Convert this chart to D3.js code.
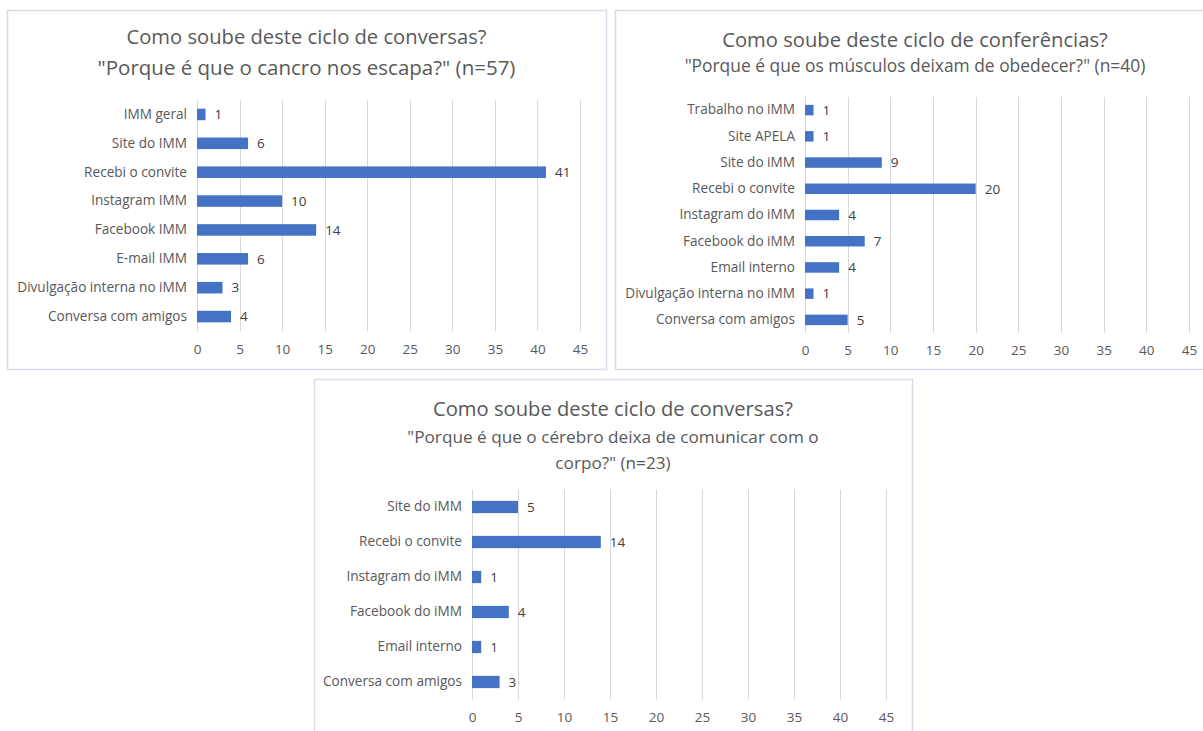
<!DOCTYPE html>
<html lang="pt">
<head>
  <meta charset="UTF-8">
  <title>Como soube deste ciclo</title>
  <style>
    * {box-sizing: border-box;}
    html, body {
      margin: 0;
      padding: 0;
      width: 1203px;
      height: 731px;
      background: #fff;
      overflow: hidden;
    }
    svg text {font-family: "Open Sans", "Noto Sans", sans-serif;}
  </style>
</head>
<body>
  <svg id="chart" width="1203" height="731"></svg>

  <script src="https://cdnjs.cloudflare.com/ajax/libs/d3/7.8.5/d3.min.js"></script>
  <script>
    // data, top to bottom as shown
    const cats1 = ['IMM geral', 'Site do IMM', 'Recebi o convite', 'Instagram IMM', 'Facebook IMM', 'E-mail IMM', 'Divulgação interna no iMM', 'Conversa com amigos']
    const vals1 = [1, 6, 41, 10, 14, 6, 3, 4]

    const cats2 = ['Trabalho no iMM', 'Site APELA', 'Site do iMM', 'Recebi o convite', 'Instagram do iMM', 'Facebook do iMM', 'Email interno', 'Divulgação interna no iMM', 'Conversa com amigos']
    const vals2 = [1, 1, 9, 20, 4, 7, 4, 1, 5]

    const cats3 = ['Site do iMM', 'Recebi o convite', 'Instagram do iMM', 'Facebook do iMM', 'Email interno', 'Conversa com amigos']
    const vals3 = [5, 14, 1, 4, 1, 3]

    const xTicks = [0, 5, 10, 15, 20, 25, 30, 35, 40, 45]

    const titles1 = ['Como soube deste ciclo de conversas?', '"Porque é que o cancro nos escapa?" (n=57)']
    const titles2 = ['Como soube deste ciclo de conferências?', '"Porque é que os músculos deixam de obedecer?" (n=40)']
    const titles3 = ['Como soube deste ciclo de conversas?', '"Porque é que o cérebro deixa de comunicar com o', 'corpo?" (n=23)']

    const panels = [
      {cats: cats1, vals: vals1, titles: titles1,
       box: [7, 10, 599, 359], titleY: [37, 68], titleSize: [20.2, 20.5],
       xr: [197, 580], yr: [100, 331], tickY: 351, pad: 0.6},
      {cats: cats2, vals: vals2, titles: titles2,
       box: [615, 10, 600, 359], titleY: [40, 66], titleSize: [20.2, 17.4],
       xr: [805, 1189], yr: [97, 333], tickY: 352, pad: 0.6},
      {cats: cats3, vals: vals3, titles: titles3,
       box: [314, 379, 598, 360], titleY: [409, 437, 463], titleSize: [20.2, 17.2, 17.2],
       xr: [472, 886], yr: [489.5, 699.5], tickY: 719, pad: 0.65}
    ]

    const svg = d3.select('#chart')

    panels.forEach(function (p) {
      const g = svg.append('g')

      g.append('rect')
        .attr('x', p.box[0] + 0.5)
        .attr('y', p.box[1] + 0.5)
        .attr('width', p.box[2])
        .attr('height', p.box[3])
        .attr('fill', '#fff')
        .attr('stroke', '#d6dde9')
        .attr('stroke-width', 1.5)

      const cx = p.box[0] + p.box[2] / 2
      g.selectAll('text.title')
        .data(p.titles)
        .enter().append('text')
        .attr('class', 'title')
        .attr('x', cx)
        .attr('y', (d, i) => p.titleY[i])
        .attr('dy', '0.35em')
        .attr('text-anchor', 'middle')
        .attr('fill', '#595959')
        .attr('font-size', (d, i) => p.titleSize[i])
        .text(d => d)

      const x = d3.scaleLinear().domain([0, 45]).range(p.xr)
      const y = d3.scaleBand().domain(p.cats).range(p.yr).paddingInner(p.pad).paddingOuter(p.pad / 2)

      // vertical gridlines
      g.selectAll('line.grid')
        .data(xTicks)
        .enter().append('line')
        .attr('class', 'grid')
        .attr('x1', d => Math.round(x(d)) + 0.5)
        .attr('x2', d => Math.round(x(d)) + 0.5)
        .attr('y1', p.yr[0])
        .attr('y2', p.yr[1])
        .attr('stroke', '#d9d9d9')
        .attr('stroke-width', 1)

      // x axis labels
      const axis = d3.axisBottom(x).tickValues(xTicks).tickSize(0).tickPadding(0)
      const ax = g.append('g')
        .attr('transform', 'translate(0,' + (p.tickY - 7) + ')')
        .call(axis)
      ax.select('.domain').remove()
      ax.selectAll('text')
        .attr('fill', '#595959')
        .attr('font-size', 13.5)
        .attr('font-family', '"Open Sans", sans-serif')

      // category labels
      const ay = d3.axisLeft(y).tickSize(0).tickPadding(10)
      const yg = g.append('g')
        .attr('transform', 'translate(' + p.xr[0] + ',0)')
        .call(ay)
      yg.select('.domain').remove()
      yg.selectAll('text')
        .attr('fill', '#595959')
        .attr('font-size', 13.6)
        .attr('font-family', '"Open Sans", sans-serif')

      // bars
      const rows = p.cats.map((c, i) => ({cat: c, val: p.vals[i]}))
      g.selectAll('rect.bar')
        .data(rows)
        .enter().append('rect')
        .attr('class', 'bar')
        .attr('x', x(0))
        .attr('y', d => y(d.cat))
        .attr('width', d => x(d.val) - x(0))
        .attr('height', y.bandwidth())
        .attr('fill', '#4472c4')

      g.selectAll('text.val')
        .data(rows)
        .enter().append('text')
        .attr('class', 'val')
        .attr('x', d => x(d.val) + 9)
        .attr('y', d => y(d.cat) + y.bandwidth() / 2)
        .attr('dy', '0.35em')
        .attr('fill', '#404040')
        .attr('font-size', 13.5)
        .text(d => d.val)
    })
  </script>
</body>
</html>
